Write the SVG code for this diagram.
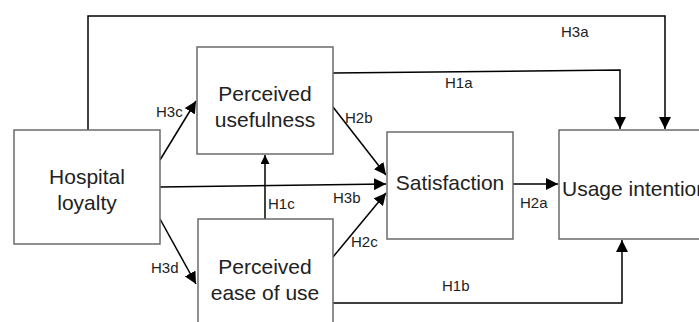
<svg xmlns="http://www.w3.org/2000/svg" width="699" height="322" viewBox="0 0 699 322">
<defs>
<marker id="ah" viewBox="0 0 10 10" refX="10" refY="5" markerWidth="9" markerHeight="9" markerUnits="userSpaceOnUse" orient="auto"><path d="M0,0 L10,5 L0,10 z" fill="#000"/></marker>
<marker id="ah2" viewBox="0 0 10 10" refX="10" refY="5" markerWidth="12" markerHeight="12" markerUnits="userSpaceOnUse" orient="auto"><path d="M0,0 L10,5 L0,10 z" fill="#000"/></marker>
</defs>
<style>
.box{fill:#fff;stroke:#6b6b6b;stroke-width:1.5}
.nt{font-family:"Liberation Sans",Arial,sans-serif;font-size:21px;fill:#222;text-anchor:middle}
.lb{font-family:"Liberation Sans",Arial,sans-serif;font-size:15px;fill:#222}
.c{fill:none;stroke:#000;stroke-width:1.5}
</style>
<rect width="699" height="322" fill="#fff"/>
<g id="connectors">
<polyline class="c" points="88,130 88,16 665,16 665,129" marker-end="url(#ah2)"/>
<polyline class="c" points="333,73 620,70 620,129" marker-end="url(#ah2)"/>
<polyline class="c" points="333,303 622,303 622,240" marker-end="url(#ah2)"/>
<line class="c" x1="160" y1="187" x2="386" y2="184" marker-end="url(#ah2)"/>
<line class="c" x1="265" y1="219" x2="265" y2="155" marker-end="url(#ah)"/>
<line class="c" x1="160" y1="160" x2="196" y2="101" marker-end="url(#ah2)"/>
<line class="c" x1="160" y1="219" x2="196" y2="284" marker-end="url(#ah2)"/>
<line class="c" x1="333" y1="107" x2="386" y2="175" marker-end="url(#ah2)"/>
<line class="c" x1="333" y1="257" x2="386" y2="193" marker-end="url(#ah2)"/>
<line class="c" x1="513" y1="184" x2="558" y2="184" marker-end="url(#ah2)"/>
<text class="lb" x="561" y="37">H3a</text>
<text class="lb" x="445" y="88">H1a</text>
<text class="lb" x="156" y="117">H3c</text>
<text class="lb" x="345" y="123">H2b</text>
<text class="lb" x="268" y="209">H1c</text>
<text class="lb" x="333" y="203">H3b</text>
<text class="lb" x="151" y="273">H3d</text>
<text class="lb" x="351" y="247">H2c</text>
<text class="lb" x="520" y="208">H2a</text>
<text class="lb" x="442" y="291">H1b</text>
</g>
<g id="hospital-loyalty">
<rect class="box" x="14" y="130" width="146" height="114"/>
<text class="nt" x="87" y="184">Hospital</text>
<text class="nt" x="87" y="210">loyalty</text>
</g>
<g id="perceived-usefulness">
<rect class="box" x="197" y="47" width="136" height="107"/>
<text class="nt" x="265" y="101">Perceived</text>
<text class="nt" x="265" y="127">usefulness</text>
</g>
<g id="perceived-ease-of-use">
<rect class="box" x="198" y="219" width="135" height="110"/>
<text class="nt" x="265" y="274">Perceived</text>
<text class="nt" x="265" y="300">ease of use</text>
</g>
<g id="satisfaction">
<rect class="box" x="387" y="132" width="126" height="107"/>
<text class="nt" x="450" y="190">Satisfaction</text>
</g>
<g id="usage-intention">
<rect class="box" x="559" y="130" width="150" height="109"/>
<text class="nt" x="562" y="196" style="text-anchor:start">Usage intention</text>
</g>
</svg>
